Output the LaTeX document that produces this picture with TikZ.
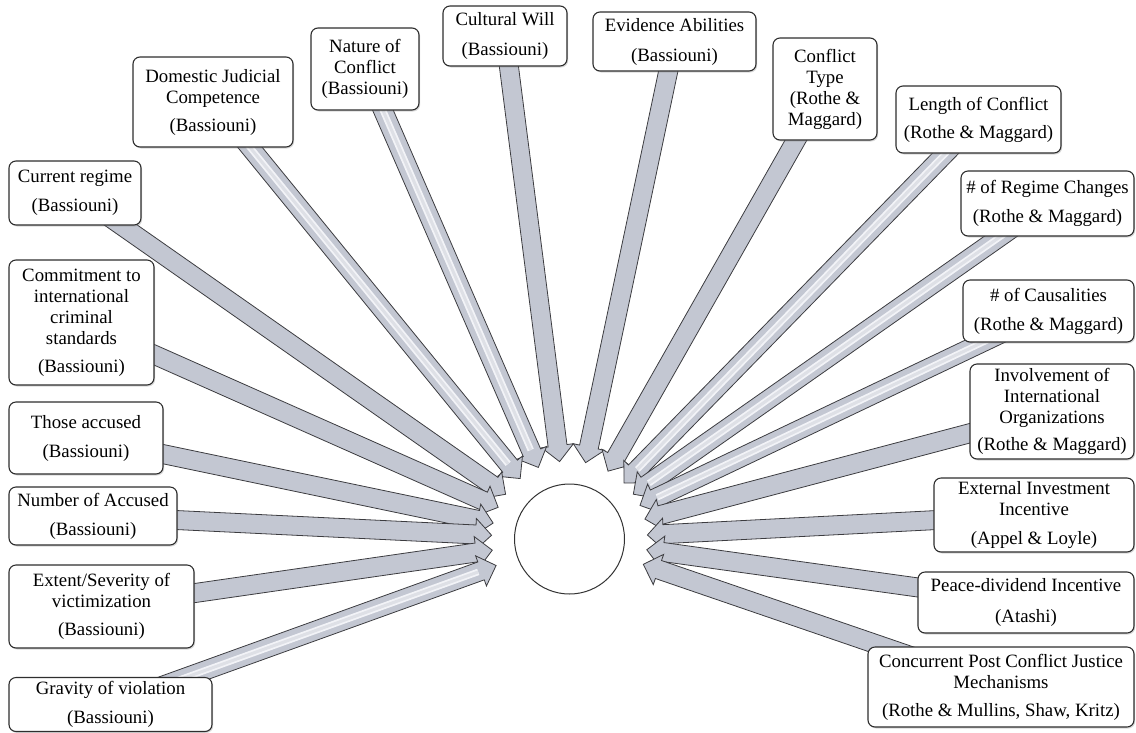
\documentclass[tikz,border=0pt]{standalone}
\usepackage{fontspec}
\setmainfont{Liberation Serif}
\usetikzlibrary{calc,shadows,backgrounds}
\definecolor{arrfillc}{HTML}{C3C7D2}
\definecolor{arrlinec}{HTML}{3C3C40}
\definecolor{stripec}{HTML}{F2F3F7}
\definecolor{boxline}{HTML}{2E2E2E}
\tikzset{
  box/.style 2 args={draw=boxline, line width=1.1pt, rounded corners=7pt, fill=white,
    align=center, inner sep=0pt, minimum width=#1pt, minimum height=#2pt,
    font=\fontsize{18.8}{21}\selectfont,
    drop shadow={shadow xshift=1.2pt, shadow yshift=-1.5pt, opacity=0.3}},
  arrfill/.style={fill=arrfillc},
  arrline/.style={draw=arrlinec, line width=0.8pt, line join=miter},
  arrstripe/.style={draw=stripec, line width=1.8pt, double=arrfillc!55!white, double distance=3pt},
  hub/.style={circle, draw=black!80, line width=1pt, fill=white, minimum size=110pt, inner sep=0pt}
}
\newcommand{\arrshape}[2]{%
  \path[#1] let \p1=(#2.center), \p2=(c.center),
    \n1={atan2(\y2-\y1,\x2-\x1)}, \n2={veclen(\x2-\x1,\y2-\y1)}
  in (\p1) ++(\n1-90:9.5pt) -- ++(\n1:{\n2-94pt}) -- ++(\n1-90:6.5pt)
    -- ++(\n1+45:22.627pt) -- ++(\n1+135:22.627pt) -- ++(\n1-90:6.5pt)
    -- ++(\n1+180:{\n2-94pt}) -- cycle;}
\newcommand{\barrow}[1]{\arrshape{arrfill}{#1}\arrshape{arrline}{#1}}
\newcommand{\sbarrow}[1]{\arrshape{arrfill}{#1}%
  \draw[arrstripe] let \p1=(#1.center), \p2=(c.center),
    \n1={atan2(\y2-\y1,\x2-\x1)}, \n2={veclen(\x2-\x1,\y2-\y1)}
  in (\p1) -- ++(\n1:{\n2-97pt});%
  \arrshape{arrline}{#1}}
\begin{document}
\begin{tikzpicture}[x=1pt, y=-1pt]
\useasboundingbox (0,0) rectangle (1136,732);
\node[hub] (c) at (569.5,539) {};
\node[box={132}{64}] (cur) at (75,193) {Current regime\\[8pt](Bassiouni)};
\node[box={145}{125}] (com) at (81.5,322.5) {Commitment to\\international\\criminal\\standards\\[7pt](Bassiouni)};
\node[box={154}{72}] (tho) at (86,438) {Those accused\\[8pt](Bassiouni)};
\node[box={168}{58}] (num) at (93,516) {Number of Accused\\[8pt](Bassiouni)};
\node[box={185}{83}] (ext) at (101.5,606.5) {Extent/Severity of\\victimization\\[7pt](Bassiouni)};
\node[box={203}{54}] (gra) at (110.5,704.5) {Gravity of violation\\[8pt](Bassiouni)};
\node[box={160}{90}] (dom) at (213,102) {Domestic Judicial\\Competence\\[7pt](Bassiouni)};
\node[box={108}{82}] (nat) at (365,69) {Nature of\\Conflict\\(Bassiouni)};
\node[box={124}{60}] (cul) at (505,36) {Cultural Will\\[9pt](Bassiouni)};
\node[box={163}{59}] (evi) at (674.5,41.5) {Evidence Abilities\\[9pt](Bassiouni)};
\node[box={104}{102}] (cty) at (825,89) {Conflict\\Type\\(Rothe \&\\Maggard)};
\node[box={165}{67}] (len) at (978.5,119.5) {Length of Conflict\\[7pt](Rothe \& Maggard)};
\node[box={173}{65}] (reg) at (1047.5,203.5) {\# of Regime Changes\\[8pt](Rothe \& Maggard)};
\node[box={171}{62}] (cas) at (1048.5,311) {\# of Causalities\\[8pt](Rothe \& Maggard)};
\node[box={164}{95}] (inv) at (1052,411.5) {Involvement of\\International\\Organizations\\[6pt](Rothe \& Maggard)};
\node[box={200}{74}] (exi) at (1034,515) {External Investment\\Incentive\\[8pt](Appel \& Loyle)};
\node[box={216}{61}] (pea) at (1026,602.5) {Peace-dividend Incentive\\[10pt](Atashi)};
\node[box={266}{80}] (con) at (1001,687) {Concurrent Post Conflict Justice\\Mechanisms\\[7pt](Rothe \& Mullins, Shaw, Kritz)};
\begin{scope}[on background layer]
  \barrow{cul}
  \barrow{evi}
  \sbarrow{nat}
  \barrow{cty}
  \sbarrow{dom}
  \sbarrow{len}
  \barrow{cur}
  \sbarrow{reg}
  \barrow{com}
  \sbarrow{cas}
  \barrow{tho}
  \barrow{inv}
  \barrow{num}
  \barrow{exi}
  \barrow{ext}
  \barrow{pea}
  \sbarrow{gra}
  \barrow{con}
\end{scope}
\end{tikzpicture}
\end{document}
